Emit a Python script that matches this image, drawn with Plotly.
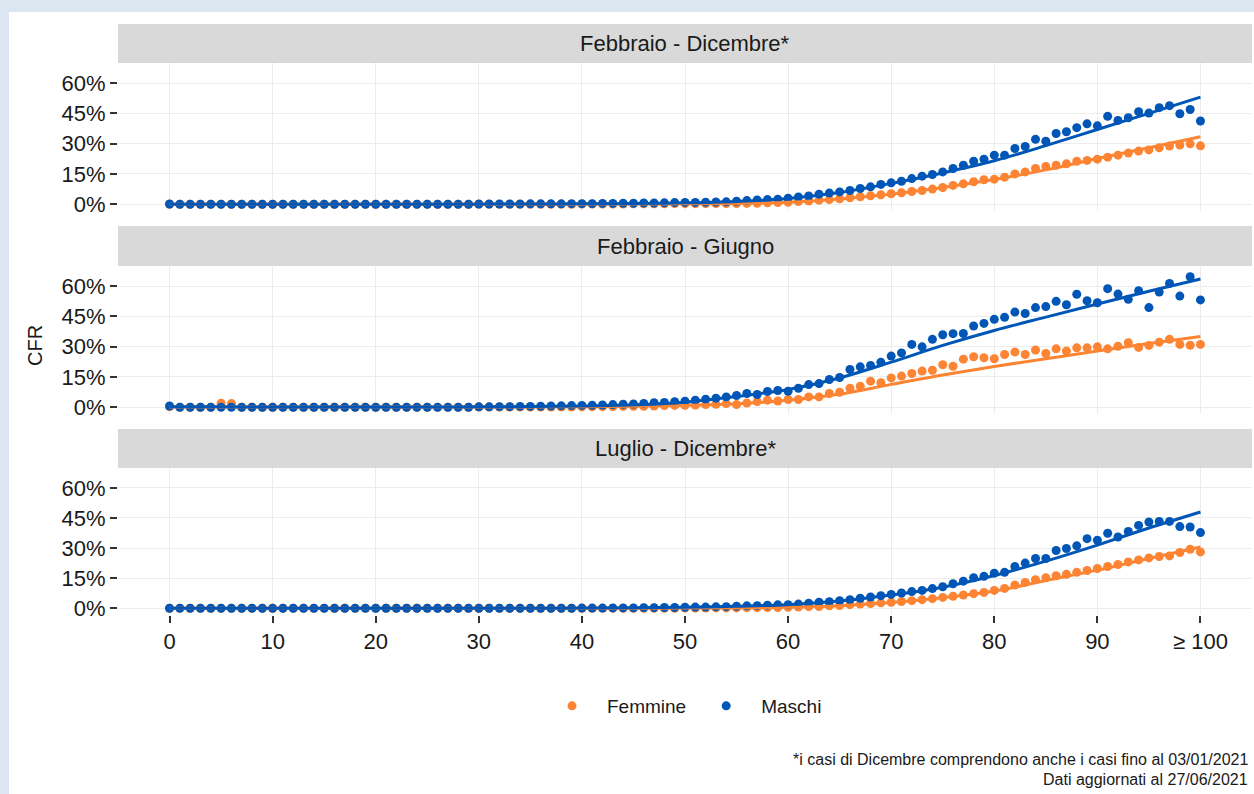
import plotly.graph_objects as go

# ---------------- data ----------------
ages = list(range(0, 101))
age_tick_vals = [0, 10, 20, 30, 40, 50, 60, 70, 80, 90, 100]
age_tick_text = ["0", "10", "20", "30", "40", "50", "60", "70", "80", "90", "\u2265 100"]
y_tick_vals = [0, 15, 30, 45, 60]
y_tick_text = ["0%", "15%", "30%", "45%", "60%"]

panel_titles = ["Febbraio - Dicembre*", "Febbraio - Giugno", "Luglio - Dicembre*"]
sex_names = ["Femmine", "Maschi"]
footnote_lines = ["*i casi di Dicembre comprendono anche i casi fino al 03/01/2021",
                  "Dati aggiornati al 27/06/2021"]

# CFR (%) by age - Febbraio - Dicembre*
femmine_feb_dic = (
    [0.0] * 40
    + [0.1, 0.1, 0.1, 0.1, 0.1, 0.2, 0.2, 0.2, 0.2, 0.3]
    + [0.3, 0.3, 0.3, 0.3, 0.3]
    + [0.3, 0.4, 0.5, 0.7, 0.8, 1.0, 1.3, 1.6, 2.0, 2.3, 2.7, 3.2, 3.7, 4.2, 4.7, 5.2, 5.7, 6.3, 6.8, 7.5, 8.3, 9.3]
    + [10.1, 11.1, 12.1, 12.4, 13.4, 15.0, 16.0, 17.7, 18.7, 19.3, 20.0, 21.3, 21.7, 22.3, 23.3, 24.3,
       25.3, 26.3, 26.9, 27.9, 28.8, 29.3, 29.9, 28.9]
)
maschi_feb_dic = (
    [0.1] + [0.0] * 29
    + [0.1, 0.1, 0.1, 0.1, 0.1, 0.2, 0.2, 0.2, 0.2, 0.3]
    + [0.3, 0.3, 0.4, 0.4, 0.5, 0.5, 0.6, 0.6, 0.7, 0.8, 0.9, 0.9, 1.0, 1.1]
    + [1.2, 1.5, 1.8, 2.1, 2.3, 2.5, 3.0, 3.6, 4.1, 5.0, 5.5, 6.1, 6.8, 7.8, 8.6, 9.8, 10.6, 11.4, 12.7, 13.9, 14.7, 16.0, 17.7]
    + [19.3, 21.3, 22.3, 24.3, 24.3, 27.6, 28.6, 32.1, 31.2, 35.0, 35.9, 37.9, 39.8, 38.8, 43.5, 41.5,
       42.8, 45.8, 45.1, 47.8, 48.8, 44.8, 46.9, 41.2]
)

# CFR (%) by age - Febbraio - Giugno
femmine_feb_giu = (
    [0.3, 0.0, 0.0, 0.0, 0.0, 2.0, 1.8]
    + [0.0] * 23
    + [0.1] * 10
    + [0.2, 0.2, 0.3, 0.3, 0.4, 0.5, 0.5, 0.6, 0.8, 0.9]
    + [1.0, 1.1, 1.3, 1.5]
    + [1.8, 1.3, 2.1, 2.8, 3.5, 3.1, 3.8, 3.8, 5.1, 5.1, 6.8, 7.4, 9.4, 10.4, 12.9, 12.1, 14.5, 15.4, 16.7, 17.9, 18.3, 21.0, 20.3]
    + [23.8, 25.0, 24.5, 24.0, 26.1, 27.3, 26.1, 28.3, 26.6, 28.9, 27.8, 29.4, 29.4, 29.9, 28.9, 30.2,
       31.9, 29.6, 30.6, 32.2, 33.6, 31.1, 30.7, 31.1]
)
maschi_feb_giu = (
    [0.6] + [0.0] * 29
    + [0.2, 0.2, 0.3, 0.3, 0.4, 0.4, 0.5, 0.6, 0.7, 0.8]
    + [0.9, 1.0, 1.1, 1.3, 1.5, 1.6, 1.9, 2.2, 2.4, 2.7, 3.0, 3.5, 4.0, 4.5]
    + [5.1, 5.8, 6.8, 6.3, 7.8, 8.3, 7.9, 9.4, 11.2, 11.7, 13.7, 14.7, 18.7, 20.0, 20.7, 22.3, 25.3, 26.9, 31.1, 29.9, 33.6, 35.9, 36.4]
    + [36.5, 40.2, 41.5, 43.5, 44.5, 47.1, 46.4, 49.3, 49.8, 52.4, 50.7, 55.9, 52.7, 51.7, 58.7, 56.0,
       53.4, 57.7, 49.3, 57.0, 61.3, 55.0, 64.6, 53.1]
)

# CFR (%) by age - Luglio - Dicembre*
femmine_lug_dic = (
    [0.0] * 50
    + [0.1, 0.1, 0.1, 0.2, 0.2]
    + [0.2, 0.3, 0.3, 0.4, 0.4, 0.5, 0.6, 0.8, 0.9, 1.2, 1.4, 1.8, 2.1, 2.4, 2.7, 3.0, 3.4, 3.8, 4.3, 4.8, 5.4, 6.0]
    + [6.6, 7.3, 7.9, 8.9, 9.9, 11.6, 12.9, 14.2, 15.2, 16.2, 16.9, 17.9, 18.8, 19.8, 20.8, 21.8,
       23.1, 24.1, 25.1, 25.8, 26.1, 27.8, 29.4, 28.1]
)
maschi_lug_dic = (
    [0.0] * 40
    + [0.1, 0.1, 0.1, 0.2, 0.2, 0.2, 0.3, 0.3, 0.4, 0.4]
    + [0.5, 0.6, 0.6, 0.7]
    + [0.8, 1.0, 1.2, 1.3, 1.5, 1.7, 1.8, 2.1, 2.5, 3.0, 3.3, 3.8, 4.3, 5.0, 5.6, 6.3, 6.9, 7.6, 8.3, 8.9, 9.8, 10.7, 12.2]
    + [13.5, 15.2, 15.9, 17.5, 17.9, 20.8, 22.5, 24.8, 24.8, 28.8, 29.8, 31.1, 34.7, 33.9, 37.4, 35.5,
       38.3, 41.3, 43.0, 43.3, 43.3, 40.7, 40.5, 37.7]
)

# fitted curves, read every 5 years
fit_ages = [0, 5, 10, 15, 20, 25, 30, 35, 40, 45, 50, 55, 60, 65, 70, 75, 80, 85, 90, 95, 100]
fit_f_feb_dic = [0, 0, 0, 0, 0, 0, 0, 0, 0.05, 0.1, 0.2, 0.4, 1.0, 2.6, 5.0, 8.3, 12.2, 17.0, 22.6, 28.0, 33.4]
fit_m_feb_dic = [0, 0, 0, 0, 0, 0, 0.05, 0.1, 0.2, 0.35, 0.7, 1.4, 2.8, 5.8, 10.3, 15.5, 21.5, 29.0, 37.0, 45.0, 53.0]
fit_f_feb_giu = [0.1, 0.1, 0.1, 0.1, 0.1, 0.1, 0.1, 0.15, 0.25, 0.5, 0.9, 1.7, 3.4, 6.5, 11.3, 16.0, 20.2, 24.0, 27.8, 31.5, 35.0]
fit_m_feb_giu = [0.3, 0.2, 0.1, 0.1, 0.1, 0.1, 0.2, 0.35, 0.6, 1.2, 2.5, 5.3, 8.8, 14.5, 22.3, 30.6, 38.0, 44.6, 51.1, 57.4, 63.5]
fit_f_lug_dic = [0, 0, 0, 0, 0, 0, 0, 0, 0, 0, 0.1, 0.2, 0.5, 1.3, 2.9, 5.2, 8.6, 13.8, 19.0, 24.8, 30.5]
fit_m_lug_dic = [0, 0, 0, 0, 0, 0, 0, 0, 0.1, 0.25, 0.5, 1.0, 1.8, 3.6, 6.6, 10.5, 16.3, 23.5, 31.5, 40.0, 48.0]

panels = [
    (femmine_feb_dic, maschi_feb_dic, fit_f_feb_dic, fit_m_feb_dic),
    (femmine_feb_giu, maschi_feb_giu, fit_f_feb_giu, fit_m_feb_giu),
    (femmine_lug_dic, maschi_lug_dic, fit_f_lug_dic, fit_m_lug_dic),
]

# ---------------- style ----------------
ORANGE = "#fd8433"
BLUE = "#0056b6"
FONT = "Liberation Sans, Arial, sans-serif"
GRID = "#ececec"
STRIP = "#d9d9d9"
FRAME = "#dce6f1"
TXT = "#1a1a1a"

W, H = 1254, 794
ML, MR, MT, MB = 118, 2, 24, 179
PW = W - ML - MR
PH = H - MT - MB


def py(px):  # pixel y -> paper y
    return (H - MB - px) / PH


def pxx(px):  # pixel x -> paper x
    return (px - ML) / PW


panel_px = [(63, 211), (266, 414), (468, H - MB)]
strip_px = [(24, 63), (226, 266), (429, 468)]

fig = go.Figure()

for i, (fv, mv, ff, fm) in enumerate(panels):
    xa = "x" if i == 0 else f"x{i + 1}"
    ya = "y" if i == 0 else f"y{i + 1}"
    fig.add_trace(go.Scatter(x=ages, y=fv, mode="markers", name=sex_names[0],
                             marker=dict(color=ORANGE, size=9), xaxis=xa, yaxis=ya,
                             legendgroup="f", showlegend=(i == 0)))
    fig.add_trace(go.Scatter(x=ages, y=mv, mode="markers", name=sex_names[1],
                             marker=dict(color=BLUE, size=9), xaxis=xa, yaxis=ya,
                             legendgroup="m", showlegend=(i == 0)))
    fig.add_trace(go.Scatter(x=fit_ages, y=ff, mode="lines", line=dict(color=ORANGE, width=3, shape="spline"),
                             xaxis=xa, yaxis=ya, showlegend=False, hoverinfo="skip"))
    fig.add_trace(go.Scatter(x=fit_ages, y=fm, mode="lines", line=dict(color=BLUE, width=3, shape="spline"),
                             xaxis=xa, yaxis=ya, showlegend=False, hoverinfo="skip"))

layout = dict(
    width=W, height=H,
    margin=dict(l=ML, r=MR, t=MT, b=MB),
    paper_bgcolor=FRAME,
    plot_bgcolor="white",
    font=dict(family=FONT, color=TXT),
    showlegend=True,
    legend=dict(orientation="h", x=pxx(537), xanchor="left", y=py(706), yanchor="middle",
                font=dict(size=19, color=TXT), itemwidth=60, bgcolor="rgba(0,0,0,0)"),
)

for i in range(3):
    top, bot = panel_px[i]
    xkey = "xaxis" if i == 0 else f"xaxis{i + 1}"
    ykey = "yaxis" if i == 0 else f"yaxis{i + 1}"
    yanchor_name = "y" if i == 0 else f"y{i + 1}"
    xanchor_name = "x" if i == 0 else f"x{i + 1}"
    last = (i == 2)
    xax = dict(
        domain=[0, 1], anchor=yanchor_name, range=[-5, 105],
        tickmode="array", tickvals=age_tick_vals, ticktext=age_tick_text,
        showticklabels=last, ticks="outside" if last else "", ticklen=7, tickwidth=1.5,
        tickcolor="#333333", tickfont=dict(size=22, color=TXT),
        showgrid=True, gridcolor=GRID, gridwidth=1, zeroline=False, showline=False,
    )
    if i > 0:
        xax["matches"] = "x"
    layout[xkey] = xax
    layout[ykey] = dict(
        domain=[py(bot), py(top)], anchor=xanchor_name, range=[-3.35, 69.9],
        tickmode="array", tickvals=y_tick_vals, ticktext=y_tick_text,
        ticks="outside", ticklen=7, tickwidth=1.5,
        tickcolor="#333333", tickfont=dict(size=22, color=TXT),
        showgrid=True, gridcolor=GRID, gridwidth=1, zeroline=False, showline=False,
    )

fig.update_layout(**layout)

shapes = [
    dict(type="rect", xref="paper", yref="paper", x0=pxx(9), x1=pxx(W + 5), y0=py(H + 5), y1=py(12),
         fillcolor="white", line=dict(width=0), layer="below"),
]
annotations = []
for i in range(3):
    t, b = strip_px[i]
    shapes.append(dict(type="rect", xref="paper", yref="paper", x0=0, x1=1, y0=py(b), y1=py(t),
                       fillcolor=STRIP, line=dict(width=0), layer="below"))
    annotations.append(dict(text=panel_titles[i], xref="paper", yref="paper", x=0.5, y=py((t + b) / 2),
                            xanchor="center", yanchor="middle", showarrow=False,
                            font=dict(size=22, color=TXT)))

annotations.append(dict(text="CFR", xref="paper", yref="paper", x=pxx(35), y=py(346), textangle=-90,
                        xanchor="center", yanchor="middle", showarrow=False,
                        font=dict(size=20, color=TXT)))
for line_text, ypx in zip(footnote_lines, [759, 779]):
    annotations.append(dict(text=line_text, xref="paper", yref="paper", x=pxx(1250), y=py(ypx),
                            xanchor="right", yanchor="middle", align="right", showarrow=False,
                            font=dict(size=16, color=TXT)))

fig.update_layout(shapes=shapes, annotations=annotations)

fig.write_html("out.html", config={"displayModeBar": False},
               post_script="document.body.style.margin='0';document.body.style.padding='0';")
